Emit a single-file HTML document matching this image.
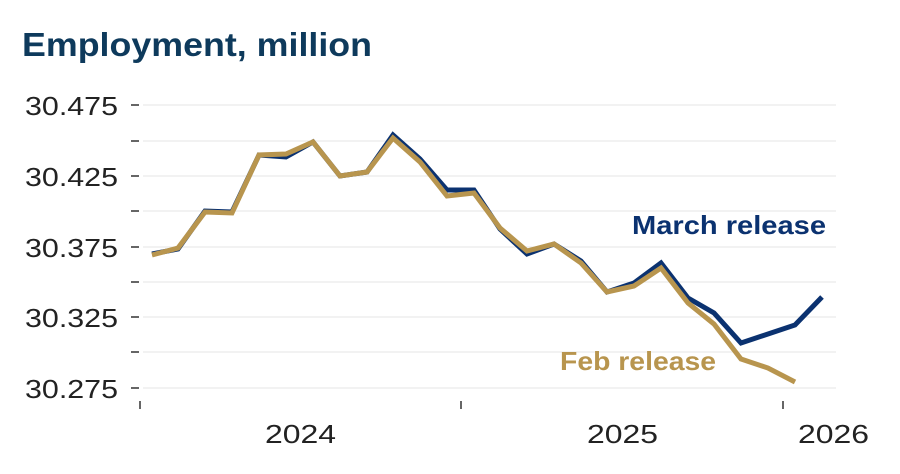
<!DOCTYPE html>
<html><head><meta charset="utf-8"><style>
body{margin:0;background:#fff;}
svg{display:block;font-family:"Liberation Sans",sans-serif;}
</style></head><body>
<svg width="900" height="474" viewBox="0 0 900 474">
<text x="22" y="56" font-size="33" font-weight="bold" fill="#0e3a5c" textLength="350" lengthAdjust="spacingAndGlyphs">Employment, million</text>
<g stroke="#e6e6e6" stroke-width="1">
<line x1="143" x2="836" y1="105" y2="105"/><line x1="143" x2="836" y1="141" y2="141"/>
<line x1="143" x2="836" y1="176" y2="176"/><line x1="143" x2="836" y1="211" y2="211"/>
<line x1="143" x2="836" y1="247" y2="247"/><line x1="143" x2="836" y1="282" y2="282"/>
<line x1="143" x2="836" y1="317" y2="317"/><line x1="143" x2="836" y1="352" y2="352"/>
<line x1="143" x2="836" y1="388" y2="388"/>
</g>
<g stroke="#333" stroke-width="1.5">
<line x1="131" x2="139" y1="105" y2="105"/><line x1="131" x2="139" y1="141" y2="141"/>
<line x1="131" x2="139" y1="176" y2="176"/><line x1="131" x2="139" y1="211" y2="211"/>
<line x1="131" x2="139" y1="247" y2="247"/><line x1="131" x2="139" y1="282" y2="282"/>
<line x1="131" x2="139" y1="317" y2="317"/><line x1="131" x2="139" y1="352" y2="352"/>
<line x1="131" x2="139" y1="388" y2="388"/>
<line x1="140" x2="140" y1="401" y2="409"/><line x1="461" x2="461" y1="401" y2="409"/><line x1="783" x2="783" y1="401" y2="409"/>
</g>
<g font-size="26" fill="#222">
<text x="25" y="115" textLength="93" lengthAdjust="spacingAndGlyphs">30.475</text>
<text x="25" y="186" textLength="93" lengthAdjust="spacingAndGlyphs">30.425</text>
<text x="25" y="257" textLength="93" lengthAdjust="spacingAndGlyphs">30.375</text>
<text x="25" y="327" textLength="93" lengthAdjust="spacingAndGlyphs">30.325</text>
<text x="25" y="398" textLength="93" lengthAdjust="spacingAndGlyphs">30.275</text>
</g>
<g font-size="26" fill="#222">
<text x="265" y="443" textLength="71" lengthAdjust="spacingAndGlyphs">2024</text>
<text x="587" y="443" textLength="71" lengthAdjust="spacingAndGlyphs">2025</text>
<text x="798" y="443" textLength="71" lengthAdjust="spacingAndGlyphs">2026</text>
</g>
<polyline fill="none" stroke="#0b3270" stroke-width="5" points="152,254 178,249 205,211 232,212 259,155 286,157 313,142 340,176 367,172 393,135 420,159 447,190 474,190 500,229 527,254 554,244 581,261 607,292 634,283 661,263 688,298 714,313 741,343 768,334 795,325 822,297"/>
<polyline fill="none" stroke="#b8954e" stroke-width="5" points="152,255 178,248 205,212 232,213 259,155 286,154 313,142 340,176 367,172 393,138 420,162 447,196 474,193 500,228 527,251 554,244 581,263 607,292 634,286 661,268 688,303 714,324 741,359 768,368 795,382"/>
<text x="632" y="234" font-size="26" font-weight="bold" fill="#0b3270" textLength="194" lengthAdjust="spacingAndGlyphs">March release</text>
<text x="560" y="370" font-size="26" font-weight="bold" fill="#b8954e" textLength="156" lengthAdjust="spacingAndGlyphs">Feb release</text>
</svg>
</body></html>
